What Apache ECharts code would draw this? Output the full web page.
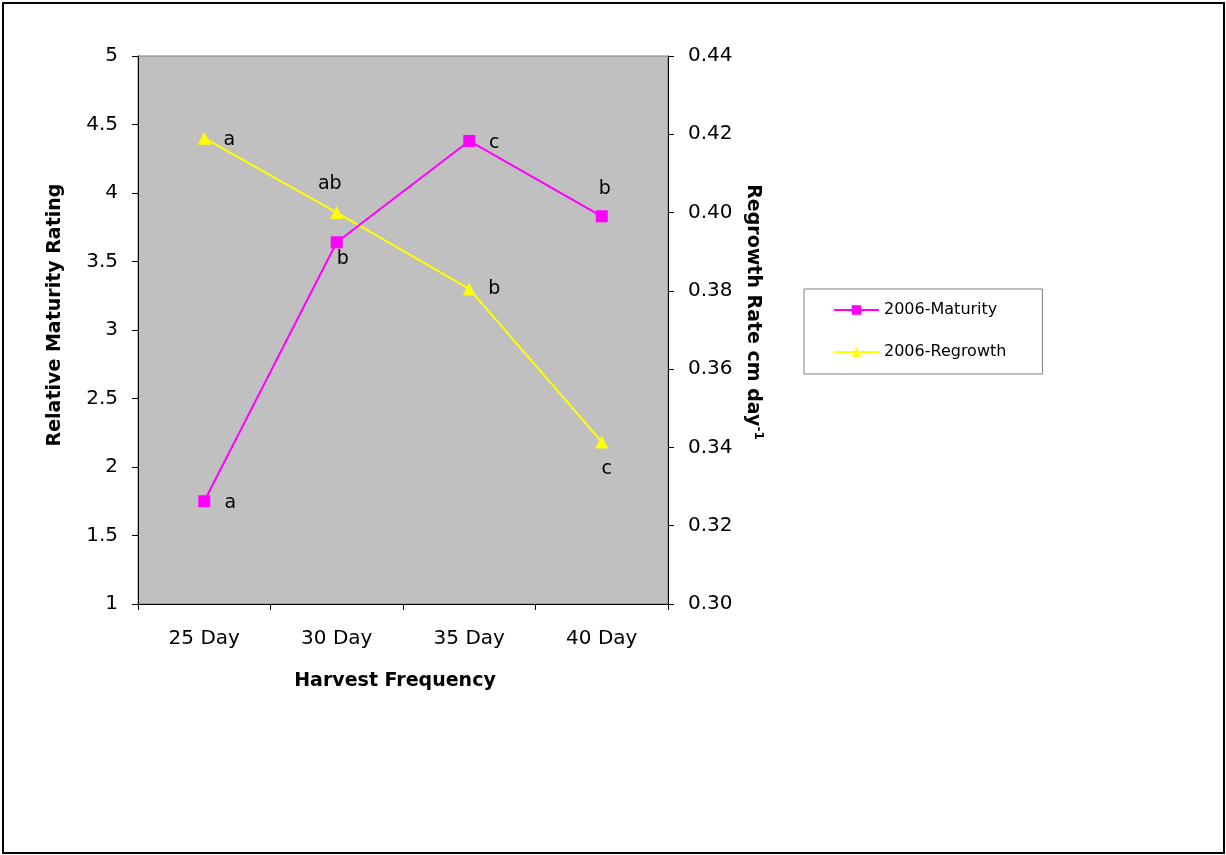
<!DOCTYPE html>
<html>
<head>
<meta charset="utf-8">
<script src="https://cdn.jsdelivr.net/npm/echarts@6/dist/echarts.min.js"></script>
<style>
html,body{margin:0;padding:0;background:#fff;}
#c{width:1226px;height:855px;}
</style>
</head>
<body>
<div id="c"></div>
<script>
// ---- data ----
const categories = ['25 Day', '30 Day', '35 Day', '40 Day'];
const maturity = [1.75, 3.64, 4.38, 3.83];
const regrowth = [0.419, 0.400, 0.3805, 0.3414];
const maturityLetters = ['a', 'b', 'c', 'b'];
const regrowthLetters = ['a', 'ab', 'b', 'c'];
const leftTicks = { min: 1, max: 5, interval: 0.5 };
const rightTicks = { min: 0.30, max: 0.44, interval: 0.02 };

// ---- label placement (style) ----
const maturityLabelOffsets = [[26, 2], [6, 17], [25, 2], [3, -27]];
const regrowthLabelOffsets = [[25, 2], [-7, -29], [25, 0], [5, 27]];

const FONT = '"DejaVu Sans", "Liberation Sans", Arial, sans-serif';
const chart = echarts.init(document.getElementById('c'));

function buildData(values, letters, offsets) {
  return values.map((v, i) => ({
    value: v,
    label: {
      show: true,
      position: 'inside',
      offset: offsets[i],
      formatter: letters[i],
      color: '#000',
      fontSize: 19,
      fontFamily: FONT
    }
  }));
}

const grid = { left: 138, right: 558, top: 56, bottom: 251 };

chart.setOption({
  animation: false,
  backgroundColor: '#fff',
  grid: {
    left: grid.left, right: grid.right, top: grid.top, bottom: grid.bottom,
    show: true, backgroundColor: '#C0C0C0', borderColor: '#808080', borderWidth: 1
  },
  legend: {
    orient: 'vertical',
    left: 804, top: 289,
    padding: [13, 36, 14, 29],
    itemWidth: 45, itemHeight: 12, itemGap: 26,
    borderColor: '#808080', borderWidth: 1,
    backgroundColor: '#fff',
    textStyle: { fontSize: 16, fontFamily: FONT, color: '#000' },
    data: ['2006-Maturity', '2006-Regrowth']
  },
  xAxis: {
    type: 'category',
    data: categories,
    boundaryGap: true,
    axisLine: { lineStyle: { color: '#000', width: 1 } },
    axisTick: { show: true, length: 6, inside: false, lineStyle: { color: '#000' } },
    axisLabel: { fontSize: 20, fontFamily: FONT, color: '#000', margin: 25 },
    splitLine: { show: false }
  },
  yAxis: [
    {
      type: 'value', position: 'left',
      min: leftTicks.min, max: leftTicks.max, interval: leftTicks.interval,
      axisLine: { show: true, lineStyle: { color: '#000' } },
      axisTick: { show: true, length: 6, lineStyle: { color: '#000' } },
      axisLabel: { fontSize: 20, fontFamily: FONT, color: '#000', margin: 20 },
      splitLine: { show: false }
    },
    {
      type: 'value', position: 'right',
      min: rightTicks.min, max: rightTicks.max, interval: rightTicks.interval,
      axisLine: { show: true, lineStyle: { color: '#000' } },
      axisTick: { show: true, length: 6, lineStyle: { color: '#000' } },
      axisLabel: { fontSize: 20, fontFamily: FONT, color: '#000', margin: 20,
        formatter: v => v.toFixed(2) },
      splitLine: { show: false }
    }
  ],
  series: [
    {
      name: '2006-Maturity',
      type: 'line',
      yAxisIndex: 0,
      data: buildData(maturity, maturityLetters, maturityLabelOffsets),
      symbol: 'rect', symbolSize: 12,
      lineStyle: { color: '#FF00FF', width: 2 },
      itemStyle: { color: '#FF00FF' },
      z: 3
    },
    {
      name: '2006-Regrowth',
      type: 'line',
      yAxisIndex: 1,
      data: buildData(regrowth, regrowthLetters, regrowthLabelOffsets),
      symbol: 'triangle', symbolSize: 13,
      lineStyle: { color: '#FFFF00', width: 2 },
      itemStyle: { color: '#FFFF00' },
      z: 2
    }
  ],
  graphic: [
    {
      type: 'rect', silent: true, z: -1,
      shape: { x: 3, y: 3, width: 1221, height: 850 },
      style: { fill: 'none', stroke: '#000', lineWidth: 2 }
    },
    {
      type: 'text', x: 395, y: 681,
      style: { text: 'Harvest Frequency', font: 'bold 19px ' + FONT, fill: '#000',
        align: 'center', verticalAlign: 'middle' }
    },
    {
      type: 'text', x: 55, y: 315, rotation: Math.PI / 2,
      style: { text: 'Relative Maturity Rating', font: 'bold 19px ' + FONT, fill: '#000',
        align: 'center', verticalAlign: 'middle' }
    },
    {
      type: 'text', x: 753, y: 312, rotation: -Math.PI / 2,
      style: {
        text: '{m|Regrowth Rate cm day}{s|-1}',
        align: 'center', verticalAlign: 'middle',
        rich: {
          m: { font: 'bold 19px ' + FONT, fill: '#000', color: '#000' },
          s: { font: 'bold 12px ' + FONT, fill: '#000', color: '#000', verticalAlign: 'top', padding: [0, 0, 10, 0] }
        }
      }
    }
  ]
});
</script>
</body>
</html>
